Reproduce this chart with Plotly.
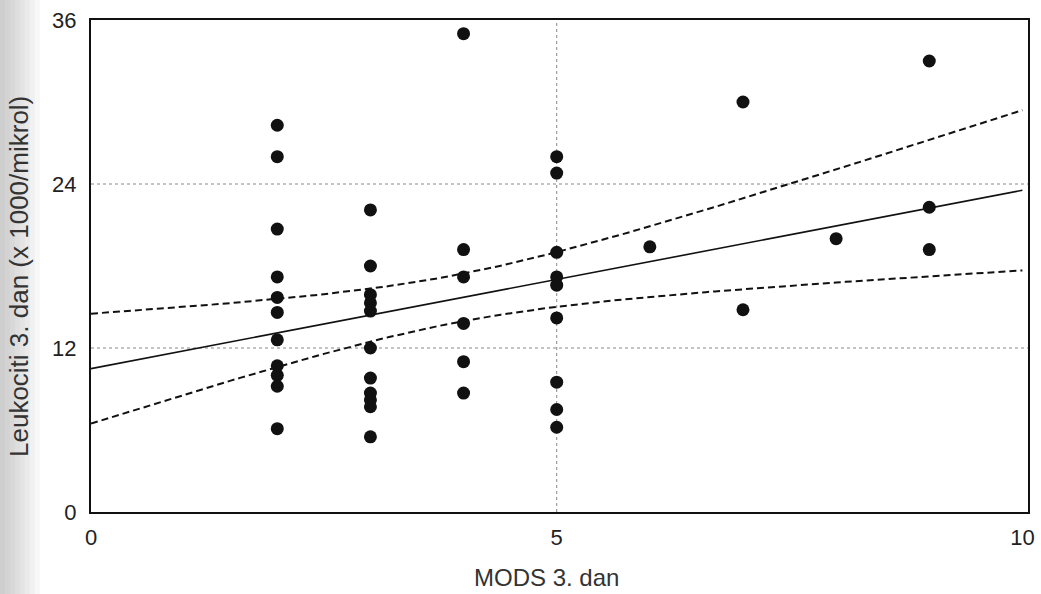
import numpy as np
import plotly.graph_objects as go

# MODS score (x) and leukocyte count (x1000/µl)
mods = [2]*11 + [3]*11 + [4]*6 + [5]*9 + [6] + [7]*2 + [8] + [9]*3
leuko = [28.3, 26.0, 20.7, 17.2, 15.7, 14.6, 12.6, 10.7, 10.0, 9.2, 6.1,
         22.1, 18.0, 15.9, 15.3, 14.7, 12.0, 9.8, 8.7, 8.2, 7.7, 5.5,
         35.0, 19.2, 17.2, 13.8, 11.0, 8.7,
         26.0, 24.8, 19.0, 17.2, 16.6, 14.2, 9.5, 7.5, 6.2,
         19.4,
         30.0, 14.8,
         20.0,
         33.0, 22.3, 19.2]

x_ticks = [0, 5, 10]
y_ticks = [0, 12, 24, 36]
x_grid = [5]
y_grid = [12, 24]
x_title = "MODS 3. dan"
y_title = "Leukociti 3. dan (x 1000/mikrol)"

# regression line and 95% confidence band
fit_intercept = 10.49
fit_slope = 1.305
band_center_x = 3.93     # x where the band is narrowest
band_min_var = 3.03      # squared half-width at band_center_x
band_curv = 0.85         # growth of squared half-width per (x - center)^2

xg = np.linspace(0, 10, 101)
yfit = fit_intercept + fit_slope * xg
half = np.sqrt(band_min_var + band_curv * (xg - band_center_x) ** 2)

fig = go.Figure()
dash_line = dict(color="#111", width=2, dash="7px,4px")
fig.add_trace(go.Scatter(x=xg, y=yfit + half, mode="lines", line=dash_line, hoverinfo="skip"))
fig.add_trace(go.Scatter(x=xg, y=yfit - half, mode="lines", line=dash_line, hoverinfo="skip"))
fig.add_trace(go.Scatter(x=xg, y=yfit, mode="lines",
                         line=dict(color="#111", width=1.6), hoverinfo="skip"))
fig.add_trace(go.Scatter(x=mods, y=leuko, mode="markers",
                         marker=dict(color="#111", size=13, line=dict(width=0))))

# dotted reference grid lines (only at interior ticks)
for gx in x_grid:
    fig.add_shape(type="line", xref="x", yref="y", x0=gx, x1=gx, y0=0, y1=36,
                  line=dict(color="#888", width=1, dash="dot"), layer="below")
for gy in y_grid:
    fig.add_shape(type="line", xref="x", yref="y", x0=0, x1=10.06, y0=gy, y1=gy,
                  line=dict(color="#888", width=1, dash="dot"), layer="below")

# scan shadow on the left edge of the page
for i in range(8):
    w = 5 * (i + 1) / 937.0
    fig.add_shape(type="rect", xref="paper", yref="paper",
                  x0=-0.0972, x1=-0.0972 + w, y0=-0.17, y1=1.05,
                  fillcolor="#808080", opacity=0.06, line=dict(width=0), layer="below")

axis_common = dict(showline=True, linecolor="#111", linewidth=2, mirror=True,
                   ticks="", showgrid=False, zeroline=False, automargin=False,
                   tickfont=dict(family="Liberation Sans, Arial", size=22, color="#222"))

fig.update_layout(
    width=1041, height=594,
    margin=dict(l=91, r=13, t=20, b=82),
    paper_bgcolor="white", plot_bgcolor="white",
    showlegend=False,
    font=dict(family="Liberation Sans, Arial", color="#333"),
    xaxis=dict(range=[0, 10.06], tickvals=x_ticks, ticktext=[str(v) for v in x_ticks],
               ticklabelstandoff=5, **axis_common),
    yaxis=dict(range=[0, 36], tickvals=y_ticks, ticktext=[str(v) for v in y_ticks],
               ticklabelstandoff=8, **axis_common),
    annotations=[
        dict(text=x_title, xref="paper", yref="paper", x=(546 - 91) / 937.0,
             y=-0.134, xanchor="center", yanchor="middle", showarrow=False,
             font=dict(size=24, color="#333")),
        dict(text=y_title, xref="paper", yref="paper", x=(19 - 91) / 937.0,
             y=(512 - 277) / 492.0, xanchor="center", yanchor="middle", showarrow=False,
             textangle=-90, font=dict(size=26, color="#333")),
    ],
)

fig.write_html("out.html", config={"displayModeBar": False},
               post_script="document.body.style.margin='0px';")
